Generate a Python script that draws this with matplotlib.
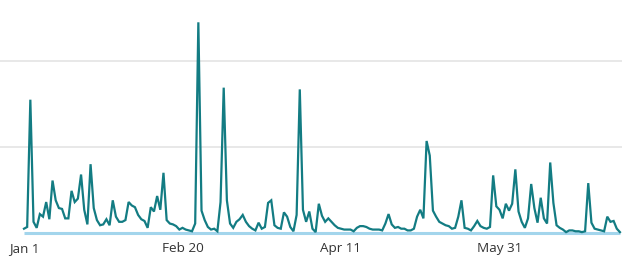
import matplotlib
matplotlib.use("Agg")
import matplotlib.pyplot as plt
import numpy as np

# Daily values, Jan 1 .. Jul 8 (day index 0..188)
values = [
    0.05, 0.07, 1.55, 0.13, 0.06, 0.22, 0.19, 0.36, 0.16, 0.61,
    0.38, 0.29, 0.28, 0.17, 0.17, 0.49, 0.36, 0.40, 0.68, 0.27,
    0.10, 0.80, 0.29, 0.15, 0.09, 0.10, 0.16, 0.09, 0.38, 0.19,
    0.13, 0.13, 0.15, 0.36, 0.32, 0.30, 0.21, 0.16, 0.14, 0.06,
    0.30, 0.25, 0.43, 0.27, 0.70, 0.15, 0.11, 0.10, 0.08, 0.04,
    0.06, 0.04, 0.03, 0.02, 0.11, 2.45, 0.26, 0.15, 0.07, 0.04,
    0.05, 0.02, 0.36, 1.69, 0.38, 0.11, 0.06, 0.13, 0.16, 0.21,
    0.13, 0.08, 0.05, 0.03, 0.12, 0.05, 0.07, 0.35, 0.38, 0.09,
    0.06, 0.05, 0.24, 0.19, 0.07, 0.02, 0.21, 1.67, 0.27, 0.13,
    0.25, 0.05, 0.01, 0.34, 0.20, 0.13, 0.17, 0.13, 0.09, 0.06,
    0.05, 0.04, 0.04, 0.04, 0.02, 0.06, 0.08, 0.08, 0.07, 0.05,
    0.04, 0.04, 0.04, 0.03, 0.11, 0.22, 0.10, 0.06, 0.07, 0.05,
    0.05, 0.03, 0.03, 0.05, 0.19, 0.27, 0.17, 1.07, 0.90, 0.26,
    0.19, 0.13, 0.11, 0.09, 0.08, 0.05, 0.06, 0.19, 0.38, 0.06,
    0.05, 0.03, 0.08, 0.14, 0.08, 0.06, 0.05, 0.07, 0.67, 0.31,
    0.27, 0.17, 0.34, 0.26, 0.34, 0.74, 0.25, 0.13, 0.06, 0.17,
    0.57, 0.29, 0.12, 0.41, 0.17, 0.11, 0.82, 0.35, 0.09, 0.06,
    0.04, 0.01, 0.03, 0.03, 0.02, 0.02, 0.01, 0.02, 0.58, 0.12,
    0.05, 0.04, 0.03, 0.02, 0.19, 0.13, 0.14, 0.05, 0.01,
]
days = list(range(len(values)))
tick_days = [0, 50, 100, 150]
tick_labels = ["Jan 1", "Feb 20", "Apr 11", "May 31"]
grid_levels = [1, 2]

plt.rcParams['font.family'] = ['Open Sans', 'DejaVu Sans']

fig = plt.figure(figsize=(6.4, 2.69), dpi=100)
ax = fig.add_axes([0, (269 - 236) / 269, 622 / 640, 236 / 269])

for g in grid_levels:
    ax.axhline(g, color="#e6e6e6", lw=1.3, zorder=0)

ax.plot(days, np.zeros(len(days)), color="#a3d5ec", lw=2.2, zorder=1,
        solid_capstyle="butt")
ax.plot(days, values, color="#137c83", lw=1.6, zorder=2,
        solid_joinstyle="miter")

ax.set_xlim(-24 / 3.17, (622 - 24) / 3.17)
ax.set_ylim(-3 / 86, 233 / 86)

ax.set_xticks(tick_days)
ax.set_xticklabels(tick_labels, fontsize=9.7, color="#333333")
ax.tick_params(axis="x", length=0, pad=4.5)
ax.set_yticks([])
for s in ax.spines.values():
    s.set_visible(False)

fig.savefig("out.png", dpi=100)
